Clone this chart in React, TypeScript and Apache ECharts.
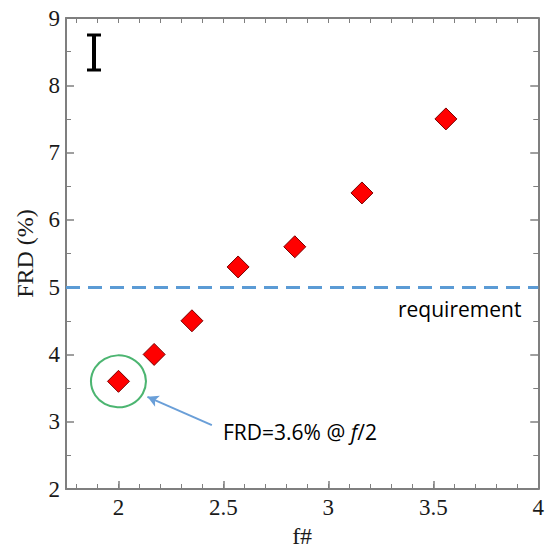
import React, { useEffect, useRef } from "react";
import * as echarts from "echarts";

const fNumbers = [2, 2.17, 2.35, 2.57, 2.84, 3.16, 3.56];
const frdValues = [3.6, 4.0, 4.5, 5.3, 5.6, 6.4, 7.5];
const xMajorTicks = [2, 2.5, 3, 3.5, 4];
const xMinorTicks = [1.8, 1.9, 2, 2.1, 2.2, 2.3, 2.4, 2.5, 2.6, 2.7, 2.8, 2.9, 3, 3.1, 3.2, 3.3, 3.4, 3.5, 3.6, 3.7, 3.8, 3.9, 4];
const requirement = 5;
const highlightPoint = [2, 3.6];
const arrowFrom = [2.445, 2.95];
const arrowTo = [2.138, 3.37];

export default function App() {
  const ref = useRef<HTMLDivElement>(null);
  useEffect(() => {
    document.body.style.margin = "0";
    const chart = echarts.init(ref.current!, null, { renderer: "svg" });
    const serif = "'Liberation Serif', 'Times New Roman', serif";
    const sans = "'Open Sans', sans-serif";
    const axisGray = "#7f7f7f";
    const baseX = {
      type: "value" as const,
      min: 1.75,
      max: 4,
      splitLine: { show: false },
    };
    const baseY = {
      type: "value" as const,
      min: 2,
      max: 9,
      interval: 1,
      splitLine: { show: false },
    };
    chart.setOption({
      animation: false,
      backgroundColor: "#ffffff",
      grid: { left: 66, right: 7, top: 18, bottom: 58.5 },
      xAxis: [
        {
          ...baseX,
          position: "bottom",
          name: "f#",
          nameLocation: "middle",
          nameGap: 35,
          nameTextStyle: { fontFamily: serif, fontSize: 24, color: "#1a1a1a" },
          axisLine: { show: true, lineStyle: { color: axisGray, width: 2 } },
          axisTick: { show: true, inside: true, length: 8, customValues: xMajorTicks, lineStyle: { color: axisGray, width: 1.5 } },
          axisLabel: { show: true, customValues: xMajorTicks, margin: 7, fontFamily: serif, fontSize: 23, color: "#1a1a1a" },
        },
        {
          ...baseX,
          position: "bottom",
          axisLine: { show: false },
          axisTick: { show: true, inside: true, length: 5, customValues: xMinorTicks, lineStyle: { color: axisGray, width: 1 } },
          axisLabel: { show: false },
        },
        {
          ...baseX,
          position: "top",
          axisLine: { show: true, lineStyle: { color: axisGray, width: 2 } },
          axisTick: { show: true, inside: true, length: 5, customValues: xMinorTicks, lineStyle: { color: axisGray, width: 1 } },
          axisLabel: { show: false },
        },
      ],
      yAxis: [
        {
          ...baseY,
          position: "left",
          name: "FRD (%)",
          nameLocation: "middle",
          nameGap: 29,
          nameTextStyle: { fontFamily: serif, fontSize: 24, color: "#1a1a1a" },
          axisLine: { show: true, lineStyle: { color: axisGray, width: 2 } },
          axisTick: { show: true, inside: true, length: 8, lineStyle: { color: axisGray, width: 1.5 } },
          minorTick: { show: true, splitNumber: 2, length: 5, lineStyle: { color: axisGray, width: 1 } },
          axisLabel: { show: true, margin: 6, fontFamily: serif, fontSize: 23, color: "#1a1a1a" },
        },
        {
          ...baseY,
          position: "right",
          axisLine: { show: true, lineStyle: { color: axisGray, width: 2 } },
          axisTick: { show: true, inside: true, length: 8, lineStyle: { color: axisGray, width: 1.5 } },
          minorTick: { show: true, splitNumber: 2, length: 5, lineStyle: { color: axisGray, width: 1 } },
          axisLabel: { show: false },
        },
      ],
      series: [
        {
          type: "scatter",
          xAxisIndex: 0,
          yAxisIndex: 0,
          data: [highlightPoint],
          symbol: "circle",
          symbolSize: [55, 52],
          itemStyle: { color: "rgba(0,0,0,0)", borderColor: "#1fa24e", borderWidth: 2 },
          silent: true,
          z: 1,
          markLine: {
            silent: true,
            symbol: ["none", "arrow"],
            symbolSize: [9, 11],
            label: { show: false },
            lineStyle: { color: "#6a9fd8", width: 2, type: "solid" },
            data: [[{ coord: arrowFrom }, { coord: arrowTo }]],
          },
        },
        {
          type: "scatter",
          xAxisIndex: 0,
          yAxisIndex: 0,
          data: fNumbers.map((f, i) => [f, frdValues[i]]),
          symbol: "diamond",
          symbolSize: [22, 22],
          itemStyle: { color: "#ff0000", borderColor: "#7a0000", borderWidth: 1, opacity: 1 },
          z: 3,
          markLine: {
            silent: true,
            symbol: ["none", "none"],
            label: { show: false },
            lineStyle: { color: "#5b9bd5", width: 3, type: [14, 8] },
            data: [{ yAxis: requirement }],
          },
        },
      ],
      graphic: [
        {
          type: "group",
          children: [
            { type: "line", shape: { x1: 94, y1: 34, x2: 94, y2: 71 }, style: { stroke: "#000", lineWidth: 4 } },
            { type: "line", shape: { x1: 87, y1: 35, x2: 101, y2: 35 }, style: { stroke: "#000", lineWidth: 3 } },
            { type: "line", shape: { x1: 87, y1: 70, x2: 101, y2: 70 }, style: { stroke: "#000", lineWidth: 3 } },
          ],
        },
        {
          type: "text",
          left: 398,
          top: 298,
          style: { text: "requirement", fontFamily: sans, fontSize: 21, fill: "#000" },
        },
        {
          type: "text",
          left: 223,
          top: 421,
          style: {
            text: "{n|FRD=3.6% @ }{i|f}{n|/2}",
            rich: {
              n: { fontFamily: sans, fontSize: 21, fill: "#000" },
              i: { fontFamily: sans, fontSize: 21, fontStyle: "italic", fill: "#000" },
            },
          },
        },
      ],
    });
    return () => chart.dispose();
  }, []);
  return <div ref={ref} style={{ width: 547, height: 553 }} />;
}
